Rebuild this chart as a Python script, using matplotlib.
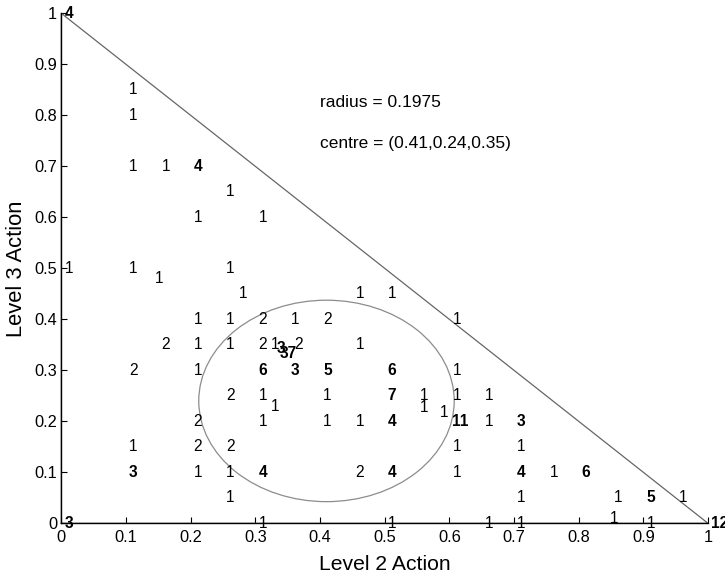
import matplotlib
matplotlib.use("Agg")
import matplotlib.pyplot as plt
from matplotlib.patches import Ellipse

plt.rcParams['font.family'] = ['Liberation Sans', 'DejaVu Sans']

# Choice counts at (Level 2 share, Level 3 share)
level2 = [0, 0.1, 0.1, 0.1, 0.15, 0.2, 0.25, 0.2, 0.3,
          0, 0.1, 0.14, 0.25, 0.27, 0.45, 0.5,
          0.2, 0.25, 0.3, 0.35, 0.4, 0.6,
          0.15, 0.2, 0.25, 0.3, 0.32, 0.328, 0.333, 0.355, 0.45,
          0.1, 0.2, 0.3, 0.35, 0.4, 0.5, 0.6,
          0.25, 0.3, 0.32, 0.4, 0.5, 0.55, 0.6, 0.65, 0.55, 0.58,
          0.2, 0.3, 0.4, 0.45, 0.5, 0.6, 0.65, 0.7,
          0.1, 0.2, 0.25, 0.6, 0.7,
          0.1, 0.2, 0.25, 0.3, 0.45, 0.5, 0.6, 0.7, 0.75, 0.8,
          0.25, 0.7, 0.85, 0.9, 0.95, 0.843,
          0, 0.3, 0.5, 0.65, 0.7, 0.9, 1.0]
level3 = [1.0, 0.85, 0.8, 0.7, 0.7, 0.7, 0.65, 0.6, 0.6,
          0.5, 0.5, 0.48, 0.5, 0.45, 0.45, 0.45,
          0.4, 0.4, 0.4, 0.4, 0.4, 0.4,
          0.35, 0.35, 0.35, 0.35, 0.35, 0.342, 0.333, 0.35, 0.35,
          0.3, 0.3, 0.3, 0.3, 0.3, 0.3, 0.3,
          0.25, 0.25, 0.23, 0.25, 0.25, 0.25, 0.25, 0.25, 0.228, 0.218,
          0.2, 0.2, 0.2, 0.2, 0.2, 0.2, 0.2, 0.2,
          0.15, 0.15, 0.15, 0.15, 0.15,
          0.1, 0.1, 0.1, 0.1, 0.1, 0.1, 0.1, 0.1, 0.1, 0.1,
          0.05, 0.05, 0.05, 0.05, 0.05, 0.01,
          0, 0, 0, 0, 0, 0, 0]
counts = [4, 1, 1, 1, 1, 4, 1, 1, 1,
          1, 1, 1, 1, 1, 1, 1,
          1, 1, 2, 1, 2, 1,
          2, 1, 1, 2, 1, 3, 37, 2, 1,
          2, 1, 6, 3, 5, 6, 1,
          2, 1, 1, 1, 7, 1, 1, 1, 1, 1,
          2, 1, 1, 1, 4, 11, 1, 3,
          1, 2, 2, 1, 1,
          3, 1, 1, 4, 2, 4, 1, 4, 1, 6,
          1, 1, 1, 5, 1, 1,
          3, 1, 1, 1, 1, 1, 12]

centre = (0.41, 0.24, 0.35)
radius = 0.1975

ticks = [0, 0.1, 0.2, 0.3, 0.4, 0.5, 0.6, 0.7, 0.8, 0.9, 1]
tick_labels = ['0', '0.1', '0.2', '0.3', '0.4', '0.5', '0.6', '0.7', '0.8', '0.9', '1']

fig = plt.figure(figsize=(7.25, 5.73), dpi=100)
ax = fig.add_axes([0.0846, 0.0867, 0.892, 0.890])

# simplex triangle
ax.plot([0, 1, 0, 0], [0, 0, 1, 0], color='#666666', lw=0.9, clip_on=False)

# circle around the centre (appears elliptical because of aspect)
ax.add_patch(Ellipse((centre[0], centre[1]), 2 * radius, 2 * radius,
                     fill=False, edgecolor='#8c8c8c', lw=0.9))

for x, y, c in zip(level2, level3, counts):
    ax.annotate(str(c), (x, y), xytext=(2.2, 0), textcoords='offset points',
                ha='left', va='center', fontsize=11.2,
                fontweight='bold' if c >= 3 else 'normal',
                annotation_clip=False)

ax.text(0.4, 0.825, 'radius = %.4f' % radius, fontsize=12.5, ha='left', va='center')
ax.text(0.4, 0.745, 'centre = (%.2f,%.2f,%.2f)' % centre, fontsize=12.5,
        ha='left', va='center')

ax.set_xlim(0, 1)
ax.set_ylim(0, 1)
ax.set_xticks(ticks)
ax.set_xticklabels(tick_labels)
ax.set_yticks(ticks)
ax.set_yticklabels(tick_labels)
ax.tick_params(direction='in', length=4.5, width=0.8, labelsize=11.8, pad=3)
ax.tick_params(axis='x', pad=5)
for s in ['top', 'right']:
    ax.spines[s].set_visible(False)
for s in ['left', 'bottom']:
    ax.spines[s].set_linewidth(1.0)
ax.set_xlabel('Level 2 Action', fontsize=15.2, labelpad=7)
ax.set_ylabel('Level 3 Action', fontsize=15.8, labelpad=5)

fig.savefig('out.png', dpi=100)
